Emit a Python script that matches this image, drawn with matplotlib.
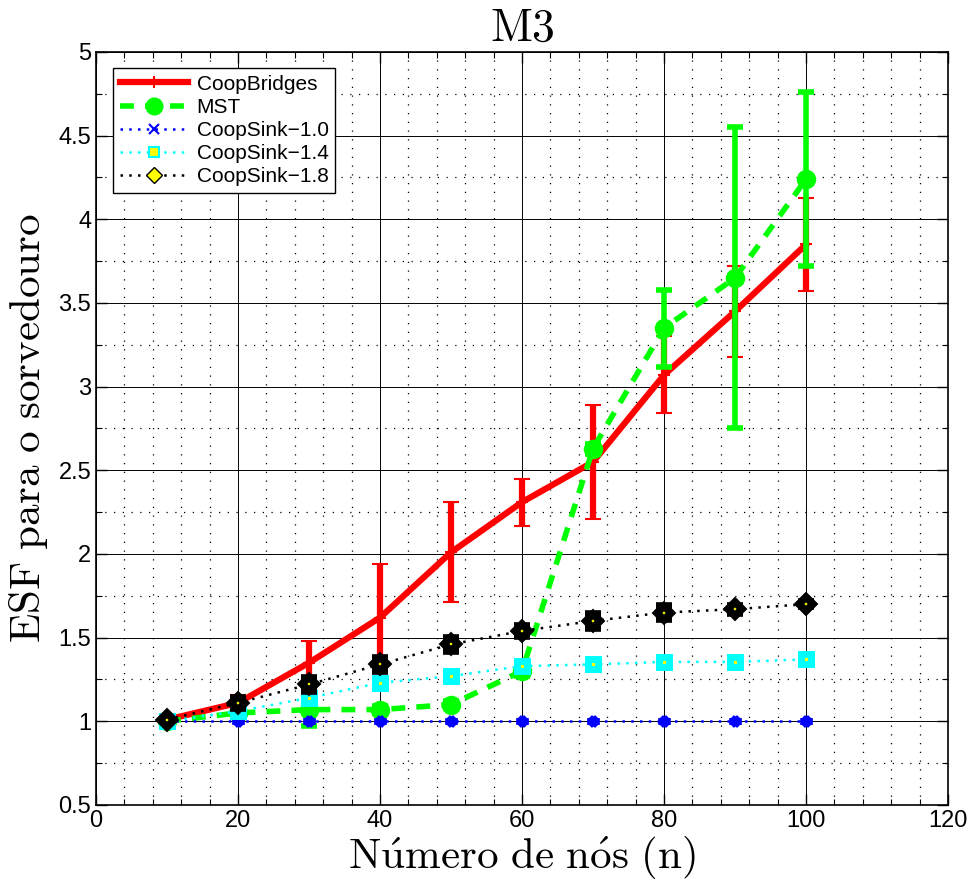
import matplotlib
matplotlib.use("Agg")
import matplotlib.pyplot as plt
from matplotlib.lines import Line2D
from matplotlib.ticker import MultipleLocator

plt.rcParams['mathtext.fontset'] = 'cm'

nodes = [10, 20, 30, 40, 50, 60, 70, 80, 90, 100]

coopbridges = [1.01, 1.11, 1.35, 1.62, 2.01, 2.31, 2.55, 3.07, 3.45, 3.85]
coopbridges_err = [0.02, 0.05, 0.13, 0.32, 0.30, 0.14, 0.34, 0.23, 0.27, 0.28]

mst = [1.00, 1.05, 1.07, 1.07, 1.10, 1.30, 2.63, 3.35, 3.65, 4.24]
mst_err = [0.00, 0.02, 0.10, 0.02, 0.02, 0.03, 0.03, 0.23, 0.90, 0.52]

coopsink_10 = [1.00, 1.00, 1.00, 1.00, 1.00, 1.00, 1.00, 1.00, 1.00, 1.00]
coopsink_10_err = [0, 0, 0, 0, 0, 0, 0, 0, 0, 0]

coopsink_14 = [1.00, 1.06, 1.14, 1.23, 1.27, 1.33, 1.34, 1.355, 1.355, 1.37]
coopsink_14_err = [0.01, 0.02, 0.03, 0.02, 0.02, 0.02, 0.01, 0.01, 0.01, 0.01]

coopsink_18 = [1.01, 1.11, 1.22, 1.34, 1.46, 1.54, 1.60, 1.65, 1.67, 1.70]
coopsink_18_err = [0.00, 0.03, 0.04, 0.04, 0.04, 0.03, 0.04, 0.04, 0.02, 0.01]

labels = ["CoopBridges", "MST", "CoopSink\u22121.0", "CoopSink\u22121.4", "CoopSink\u22121.8"]

fig = plt.figure(figsize=(9.68, 8.84), dpi=100)
ax = fig.add_axes([0.0992, 0.0894, 0.8802, 0.8518])

dot = (0, (1, 2.5))

ax.errorbar(nodes, coopbridges, yerr=coopbridges_err, color='#ff0000', lw=4.5,
            marker='+', ms=8, mew=1.5, capsize=6, capthick=4, elinewidth=4.5, zorder=3)
ax.errorbar(nodes, mst, yerr=mst_err, color='#00ff00', lw=4, ls=(0, (2.5, 2)),
            marker='o', ms=13, capsize=6, capthick=4, elinewidth=4, zorder=4)
ax.errorbar(nodes, coopsink_10, yerr=coopsink_10_err, color='#0000ff', lw=1.8, ls=dot,
            marker='x', ms=6, mew=5, capsize=4, capthick=2, elinewidth=2, zorder=5)
ax.errorbar(nodes, coopsink_14, yerr=coopsink_14_err, color='#00ffff', lw=1.8, ls=dot,
            marker='s', ms=7, mfc='yellow', mec='#00ffff', mew=5, capsize=6, capthick=3,
            elinewidth=3, zorder=6)
ax.errorbar(nodes, coopsink_18, yerr=coopsink_18_err, color='black', lw=1.8, ls=dot,
            marker='D', ms=7.5, mfc='yellow', mec='black', mew=5.5, capsize=6, capthick=3,
            elinewidth=3, zorder=7)

ax.set_xlim(0, 120)
ax.set_ylim(0.5, 5)
ax.xaxis.set_major_locator(MultipleLocator(20))
ax.xaxis.set_minor_locator(MultipleLocator(4))
ax.yaxis.set_major_locator(MultipleLocator(0.5))
ax.yaxis.set_minor_locator(MultipleLocator(0.25))
ax.set_yticks([0.5, 1, 1.5, 2, 2.5, 3, 3.5, 4, 4.5, 5])
ax.set_yticklabels(['0.5', '1', '1.5', '2', '2.5', '3', '3.5', '4', '4.5', '5'])

ax.grid(True, which='major', color='black', lw=0.7, ls='-')
ax.grid(True, which='minor', color='black', lw=0.9, ls=(0, (1, 6)))
ax.set_axisbelow(True)

ax.tick_params(which='both', direction='in', top=True, right=True)
ax.tick_params(which='major', length=8, width=1)
ax.tick_params(which='minor', length=4, width=0.8)
for sp in ax.spines.values():
    sp.set_linewidth(1.2)

tickfont = ['Liberation Sans Narrow', 'Liberation Sans', 'DejaVu Sans']
for lab in ax.get_xticklabels() + ax.get_yticklabels():
    lab.set_fontfamily(tickfont)
    lab.set_fontsize(17)

ax.set_title(r'$\mathrm{M3}$', fontsize=33, pad=8)
ax.set_xlabel(r'$\mathrm{N\acute{u}mero\ de\ n\acute{o}s\ (n)}$', fontsize=31, labelpad=2)
ax.set_ylabel(r'$\mathrm{ESF\ para\ o\ sorvedouro}$', fontsize=31, labelpad=6)

handles = [
    Line2D([], [], color='#ff0000', lw=4.5, marker='+', ms=8, mew=1.5),
    Line2D([], [], color='#00ff00', lw=4, ls=(0, (2.5, 2)), marker='o', ms=12),
    Line2D([], [], color='#0000ff', lw=1.8, ls=dot, marker='x', ms=7, mew=1.5),
    Line2D([], [], color='#00ffff', lw=1.8, ls=dot, marker='s', ms=7, mfc='yellow', mec='#00ffff', mew=1.5),
    Line2D([], [], color='black', lw=1.8, ls=dot, marker='D', ms=8, mfc='yellow', mec='black', mew=1),
]
leg = ax.legend(handles, labels, loc='upper left', bbox_to_anchor=(0.008, 0.992),
                prop={'family': ['Liberation Sans', 'DejaVu Sans'], 'size': 15},
                handlelength=3.3, handletextpad=0.4, labelspacing=0.2, borderpad=0.3,
                fancybox=False, framealpha=1, edgecolor='black')
leg.get_frame().set_linewidth(1.0)

fig.savefig('out.png', dpi=100)
